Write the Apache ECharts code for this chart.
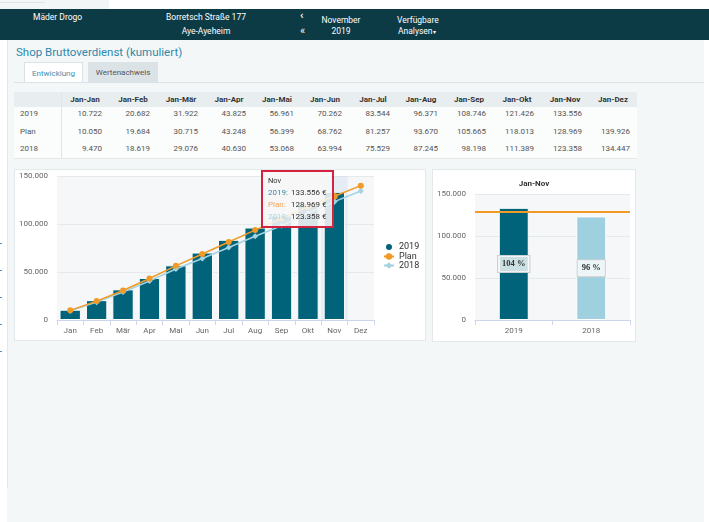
<!DOCTYPE html>
<html><head><meta charset="utf-8">
<script src="https://cdn.jsdelivr.net/npm/echarts@6/dist/echarts.min.js"></script>
<style>
html,body{margin:0;padding:0;width:709px;height:522px;overflow:hidden;background:#fff;font-family:Roboto,"Noto Sans",sans-serif;}
.a{position:absolute;white-space:nowrap;}
#topgray{left:0;top:0;width:109px;height:9px;background:#f3f6f7;}
#topline{left:0;top:2px;width:45px;height:1px;background:#dde3e6;}
#header{left:0;top:9px;width:709px;height:31px;background:#0c3b45;}
.ht{position:absolute;color:#fff;font-size:8.5px;line-height:10px;white-space:nowrap;}
#page{left:7px;top:40px;width:697px;height:482px;background:#f4f7f8;}
#leftline{left:7px;top:40px;width:1px;height:448px;background:#e3e8ea;}
.dot{position:absolute;left:0;width:2px;height:1px;background:#5b8fc0;}
#title{left:16px;top:45px;font-size:11.5px;line-height:14px;color:#2d89ab;}
#tab1{left:24px;top:62px;width:57px;height:20px;background:#fff;border:1px solid #dbe2e5;border-bottom:none;color:#3d91b1;font-size:8px;line-height:21px;text-align:center;}
#tab2{left:88px;top:62px;width:70px;height:20px;background:#dce3e6;color:#555;font-size:8px;line-height:21px;text-align:center;}
#tabline{left:14px;top:82px;width:690px;height:1px;background:#dbe2e5;}
#tbl{left:14px;top:92px;width:623px;height:66px;background:#fbfcfc;border-bottom:1px solid #e3e8ea;}
.thbg{position:absolute;left:0;top:0;width:623px;height:15px;background:#e8edef;}
.th{position:absolute;top:3px;width:48px;text-align:center;font-size:8px;line-height:10px;font-weight:bold;color:#333;}
.td{position:absolute;width:41px;padding-right:7px;text-align:right;font-size:8px;line-height:10px;color:#555;}
.tl{position:absolute;left:6px;font-size:8px;line-height:10px;color:#555;}
.vdiv{position:absolute;left:47px;top:0;width:1px;height:66px;background:#dfe5e8;}
.panel{position:absolute;background:#fff;border:1px solid #e3e8ea;box-sizing:border-box;}
</style></head>
<body>
<div class="a" id="topgray"></div><div class="a" id="topline"></div>
<div class="a" id="page"></div>
<div class="a" id="leftline"></div>
<div class="dot" style="top:243px"></div><div class="dot" style="top:270px"></div><div class="dot" style="top:297px"></div><div class="dot" style="top:324px"></div><div class="dot" style="top:351px"></div>
<div class="a" id="header">
  <div class="ht" style="left:33px;top:3px;">Mäder Drogo</div>
  <div class="ht" style="left:146px;top:3px;width:120px;text-align:center;">Borretsch Straße 177</div>
  <div class="ht" style="left:146px;top:17px;width:120px;text-align:center;">Aye-Ayeheim</div>
  <div class="ht" style="left:300px;top:1px;font-size:11px;line-height:12px;font-weight:bold;">‹</div>
  <div class="ht" style="left:300px;top:16px;font-size:11px;line-height:12px;">«</div>
  <div class="ht" style="left:311px;top:6px;width:60px;text-align:center;">November</div>
  <div class="ht" style="left:311px;top:17px;width:60px;text-align:center;">2019</div>
  <div class="ht" style="left:397px;top:6px;">Verfügbare</div>
  <div class="ht" style="left:398px;top:17px;">Analysen<span style="font-size:6px;">▾</span></div>
</div>
<div class="a" id="title">Shop Bruttoverdienst (kumuliert)</div>
<div class="a" id="tab1">Entwicklung</div>
<div class="a" id="tab2">Wertenachweis</div>
<div class="a" id="tabline"></div>
<div class="a" id="tbl"></div>
<div class="panel" style="left:14px;top:169px;width:412px;height:172px;"></div>
<div class="panel" style="left:432px;top:169px;width:204px;height:173px;"></div>
<div id="c1" style="position:absolute;left:15px;top:170px;width:410px;height:170px;"></div>
<div id="c2" style="position:absolute;left:433px;top:170px;width:202px;height:171px;"></div>
<script>
const months = ['Jan','Feb','Mär','Apr','Mai','Jun','Jul','Aug','Sep','Okt','Nov','Dez'];
const tableHeaders = ['Jan-Jan','Jan-Feb','Jan-Mär','Jan-Apr','Jan-Mai','Jan-Jun','Jan-Jul','Jan-Aug','Jan-Sep','Jan-Okt','Jan-Nov','Jan-Dez'];
const rowLabels = ['2019','Plan','2018'];
const values2019 = [10722,20682,31922,43825,56961,70262,83544,96371,108746,121426,133556,null];
const valuesPlan = [10050,19684,30715,43248,56399,68762,81257,93670,105665,118013,128969,139926];
const values2018 = [9470,18619,29076,40630,53068,63994,75529,87245,98198,111389,123358,134447];
const yTicks = [0,50000,100000,150000];
const ytdCategories = ['2019','2018'];
const ytdTitle = 'Jan-Nov';
const currentMonthIndex = 10;

const C_2019 = '#00637a', C_PLAN = '#f29a26', C_2018 = '#a3d2e1';
function fmt(n){ return String(n).replace(/\B(?=(\d{3})+(?!\d))/g,'.'); }

// table
(function(){
  const rows = [values2019, valuesPlan, values2018];
  const rowTops = [17, 34.5, 52];
  let h = '<div class="thbg"></div><div class="vdiv"></div>';
  tableHeaders.forEach((t,i)=>{ h += '<div class="th" style="left:'+(47+48*i)+'px">'+t+'</div>'; });
  rows.forEach((r,ri)=>{
    h += '<div class="tl" style="top:'+rowTops[ri]+'px">'+rowLabels[ri]+'</div>';
    r.forEach((v,i)=>{ if(v!==null) h += '<div class="td" style="left:'+(47+48*i)+'px;top:'+rowTops[ri]+'px">'+fmt(v)+'</div>'; });
  });
  document.getElementById('tbl').innerHTML = h;
})();

const font = 'Roboto';
const yAxisCommon = {
  type:'value', min:yTicks[0], max:yTicks[yTicks.length-1], interval:yTicks[1]-yTicks[0],
  axisLine:{show:false}, axisTick:{show:false},
  axisLabel:{color:'#666', fontSize:8, fontFamily:font, margin:9, formatter:v=>fmt(v)},
  splitLine:{lineStyle:{color:'#e4e9ec', width:1}}
};

const c1 = echarts.init(document.getElementById('c1'), null, {renderer:'canvas'});
c1.setOption({
  animation:false,
  grid:{left:42, top:6, width:317, height:144, show:true, backgroundColor:'#f5f7f9', borderWidth:0, outerBoundsMode:'none'},
  xAxis:{type:'category', data:months,
    axisLine:{lineStyle:{color:'#ccd6eb'}},
    axisTick:{show:true, length:5, lineStyle:{color:'#ccd6eb'}},
    axisLabel:{color:'#666', fontSize:8, fontFamily:font, margin:7, interval:0}},
  yAxis:yAxisCommon,
  legend:{orient:'vertical', left:363, top:67, padding:5, itemWidth:10, itemHeight:8, itemGap:0, selectedMode:false,
    textStyle:{fontSize:9, color:'#333', fontFamily:font, lineHeight:9},
    data:[{name:'2019', icon:'circle', itemStyle:{color:C_2019}}, 'Plan', '2018']},
  tooltip:{trigger:'axis', triggerOn:'none', alwaysShowContent:true, transitionDuration:0,
    axisPointer:{type:'shadow', z:1, shadowStyle:{color:'rgba(204,214,235,0.35)'}},
    backgroundColor:'rgba(247,247,247,0.88)', borderColor:'#d3233f', borderWidth:2, padding:[3,5],
    extraCssText:'box-shadow:none;border-radius:0;',
    textStyle:{fontSize:8, color:'#333', fontFamily:font},
    position:function(){ return [246, 0]; },
    formatter:function(params){
      const idx = params[0].dataIndex;
      const items = [['2019', '#3a88a6', values2019[idx]], ['Plan', '#f3a55c', valuesPlan[idx]], ['2018', '#a9d4e2', values2018[idx]]];
      let s = '<div style="font-size:7.5px;line-height:12px;color:#333">'+months[idx]+'</div><table style="border-collapse:collapse;font-size:8px;line-height:12px;">';
      items.forEach(it=>{ s += '<tr><td style="padding:0;color:'+it[1]+'">'+it[0]+':</td><td style="padding:0 0 0 3px;text-align:right;color:#333">'+fmt(it[2])+' €</td></tr>'; });
      return s + '</table>';
    }},
  series:[
    {name:'2019', type:'bar', data:values2019, barCategoryGap:'19%',
      itemStyle:{color:C_2019, borderColor:'#fff', borderWidth:1}, emphasis:{disabled:true}},
    {name:'Plan', type:'line', data:valuesPlan, symbol:'circle', symbolSize:6, z:4,
      itemStyle:{color:C_PLAN}, lineStyle:{color:C_PLAN, width:1.5}, emphasis:{disabled:true}},
    {name:'2018', type:'line', data:values2018, symbol:'diamond', symbolSize:6, z:3,
      itemStyle:{color:C_2018}, lineStyle:{color:C_2018, width:1.5}, emphasis:{disabled:true}}
  ]
});
c1.dispatchAction({type:'showTip', seriesIndex:0, dataIndex:currentMonthIndex});

const ytdValues = [values2019[currentMonthIndex], values2018[currentMonthIndex]];
const ytdColors = [C_2019, '#9fd0df'];
const planYtd = valuesPlan[currentMonthIndex];
const c2 = echarts.init(document.getElementById('c2'), null, {renderer:'canvas'});
c2.setOption({
  animation:false,
  title:{text:ytdTitle, left:'center', top:5, textStyle:{fontSize:8, fontWeight:'bold', color:'#333', fontFamily:font}},
  grid:{left:42, top:24, width:155, height:126, show:true, backgroundColor:'#f5f7f9', borderWidth:0, outerBoundsMode:'none'},
  xAxis:{type:'category', data:ytdCategories,
    axisLine:{lineStyle:{color:'#ccd6eb'}},
    axisTick:{show:true, length:5, lineStyle:{color:'#ccd6eb'}},
    axisLabel:{color:'#666', fontSize:8, fontFamily:font, margin:7}},
  yAxis:yAxisCommon,
  series:[{type:'bar', barWidth:30,
    data:ytdValues.map((v,i)=>({value:v, itemStyle:{color:ytdColors[i]}})),
    itemStyle:{borderColor:'#fff', borderWidth:1},
    emphasis:{disabled:true},
    label:{show:true, position:'inside', formatter:p=>Math.round(p.value/planYtd*100)+' %',
      backgroundColor:'rgba(255,255,255,0.8)', borderColor:'#c8d0d4', borderWidth:1, padding:[4,4,3,4],
      fontFamily:'Liberation Serif', fontWeight:'bold', fontSize:8.5, color:'#333'},
    markLine:{silent:true, symbol:['none','none'], label:{show:false},
      lineStyle:{color:C_PLAN, width:2, type:'solid'}, data:[{yAxis:planYtd}]}
  }]
});
</script>
</body></html>
